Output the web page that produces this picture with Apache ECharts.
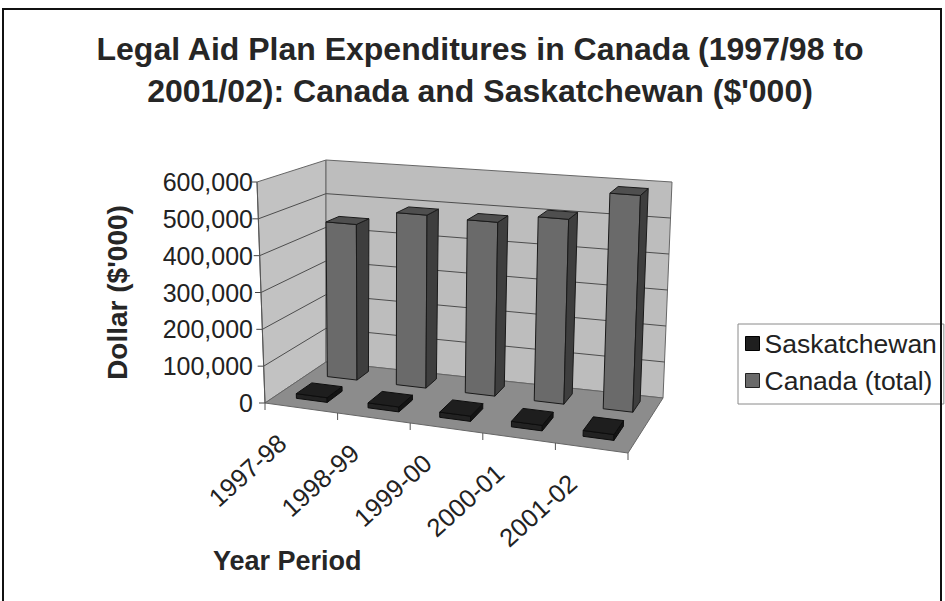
<!DOCTYPE html>
<html>
<head>
<meta charset="utf-8">
<script src="https://cdn.jsdelivr.net/npm/echarts@6/dist/echarts.min.js"></script>
<style>
  html, body { margin: 0; padding: 0; background: #ffffff; }
  #chart { width: 945px; height: 601px; }
</style>
</head>
<body>
<div id="chart"></div>
<script>
// Fiscal year periods along the floor
const categories = ['1997-98', '1998-99', '1999-00', '2000-01', '2001-02'];
// Legal aid plan expenditures, in $'000
const canadaTotal = [445000, 488000, 484000, 508000, 588000];
const saskatchewan = [12800, 13300, 13900, 14500, 15200];
// Value gridlines on the walls
const valueTicks = [0, 100000, 200000, 300000, 400000, 500000, 600000];

const FONT = '"Liberation Sans", Arial, sans-serif';

// Screen corners of the 3D plot box: u runs across the categories,
// v runs from the front row to the back wall, w is the value height.
const BOX = {
  flb: [265, 403], frb: [628, 453], blb: [326, 362], brb: [663, 398],
  flt: [257, 182], frt: [635, 217], blt: [326, 160], brt: [672, 182]
};
function lerp(a, b, t) { return [a[0] + (b[0] - a[0]) * t, a[1] + (b[1] - a[1]) * t]; }
function project(u, v, w) {
  const bottom = lerp(lerp(BOX.flb, BOX.frb, u), lerp(BOX.blb, BOX.brb, u), v);
  const top = lerp(lerp(BOX.flt, BOX.frt, u), lerp(BOX.blt, BOX.brt, u), v);
  return lerp(bottom, top, w);
}
// Normalised positions taken from the chart's own axes
function uOf(api, cs, i) { return (api.coord([i, 0])[0] - cs.x) / cs.width; }
function wOf(api, cs, val) { return (cs.y + cs.height - api.coord([0, val])[1]) / cs.height; }

const WALL_EDGE = '#666666';
const GRID = '#4d4d4d';

function renderBox(params, api) {
  if (params.dataIndex !== 0) return null;
  const cs = params.coordSys;
  const P = project;
  const kids = [];
  const poly = (pts, fill) => ({
    type: 'polygon', shape: { points: pts },
    style: { fill: fill, stroke: WALL_EDGE, lineWidth: 1 }
  });
  const line = (a, b, color) => ({
    type: 'line', shape: { x1: a[0], y1: a[1], x2: b[0], y2: b[1] },
    style: { stroke: color, lineWidth: 1 }
  });
  // walls and floor
  kids.push(poly([P(0, 0, 0), P(0, 1, 0), P(0, 1, 1), P(0, 0, 1)], '#c2c2c2'));
  kids.push(poly([P(0, 1, 0), P(1, 1, 0), P(1, 1, 1), P(0, 1, 1)], '#bdbdbd'));
  kids.push(poly([P(0, 0, 0), P(1, 0, 0), P(1, 1, 0), P(0, 1, 0)], '#8c8c8c'));
  // value gridlines across the left and back walls, ticks on the front edge
  valueTicks.forEach(t => {
    const w = wOf(api, cs, t);
    if (t > 0 && t < valueTicks[valueTicks.length - 1]) {
      kids.push({
        type: 'polyline',
        shape: { points: [P(0, 0, w), P(0, 1, w), P(1, 1, w)] },
        style: { stroke: GRID, lineWidth: 1, fill: null }
      });
    }
    const a = P(0, 0, w);
    kids.push(line(a, [a[0] - 6, a[1]], '#444444'));
  });
  // front edge of the left wall
  kids.push(line(P(0, 0, 0), P(0, 0, 1), '#555555'));
  // category boundary ticks under the floor's front edge
  for (let k = 0; k <= categories.length; k++) {
    const a = P(k / categories.length, 0, 0);
    kids.push(line(a, [a[0], a[1] + 7], '#555555'));
  }
  // slanted category labels
  categories.forEach((name, k) => {
    const a = P(uOf(api, cs, k), 0, 0);
    kids.push({
      type: 'text', x: a[0] - 19, y: a[1] + 31, rotation: 42 * Math.PI / 180,
      style: {
        text: name, fill: '#222222', fontSize: 25.5, fontFamily: FONT,
        align: 'right', verticalAlign: 'middle'
      }
    });
  });
  return { type: 'group', children: kids };
}

function barRenderer(v0, v1, colors) {
  return function (params, api) {
    const cs = params.coordSys;
    const P = project;
    const i = api.value(0);
    const uc = uOf(api, cs, i);
    const bw = api.size([1, 0])[0] / cs.width * 0.43;
    const w = wOf(api, cs, api.value(1));
    const u0 = uc - bw / 2, u1 = uc + bw / 2;
    const face = (pts, fill) => ({
      type: 'polygon', shape: { points: pts },
      style: { fill: fill, stroke: colors.edge, lineWidth: 1, lineJoin: 'round' }
    });
    return {
      type: 'group',
      children: [
        face([P(u0, v0, 0), P(u1, v0, 0), P(u1, v0, w), P(u0, v0, w)], colors.front),
        face([P(u1, v0, 0), P(u1, v1, 0), P(u1, v1, w), P(u1, v0, w)], colors.side),
        face([P(u0, v0, w), P(u1, v0, w), P(u1, v1, w), P(u0, v1, w)], colors.top)
      ]
    };
  };
}

const chart = echarts.init(document.getElementById('chart'), null, { renderer: 'svg' });

chart.setOption({
  backgroundColor: '#ffffff',
  animation: false,
  title: {
    text: 'Legal Aid Plan Expenditures in Canada (1997/98 to\n2001/02): Canada and Saskatchewan ($\'000)',
    left: 475, top: 23, textAlign: 'center',
    textStyle: { fontFamily: FONT, fontSize: 32, fontWeight: 'bold', color: '#262626', lineHeight: 42 }
  },
  legend: {
    left: 738, top: 324, orient: 'vertical',
    padding: [6, 7, 10, 7], itemGap: 10, itemWidth: 14, itemHeight: 14,
    borderColor: '#8a8a8a', borderWidth: 1, backgroundColor: '#ffffff',
    textStyle: { fontFamily: FONT, fontSize: 26.5, color: '#222222' },
    data: [
      { name: 'Saskatchewan', icon: 'rect', itemStyle: { color: '#1f1f1f', borderColor: '#000000', borderWidth: 1 } },
      { name: 'Canada (total)', icon: 'rect', itemStyle: { color: '#6a6a6a', borderColor: '#222222', borderWidth: 1 } }
    ]
  },
  grid: { left: 261, top: 182, width: 367, height: 221 },
  xAxis: { type: 'category', data: categories, show: false },
  yAxis: {
    type: 'value', min: 0, max: 600000, interval: 100000,
    name: 'Dollar ($\'000)', nameLocation: 'middle', nameRotate: 90, nameGap: 130,
    nameTextStyle: { fontFamily: FONT, fontSize: 28, fontWeight: 'bold', color: '#262626' },
    axisLine: { show: false }, axisTick: { show: false }, splitLine: { show: false },
    axisLabel: {
      margin: 8, fontFamily: FONT, fontSize: 25, color: '#222222',
      formatter: v => v.toLocaleString('en-US')
    }
  },
  graphic: [
    {
      type: 'text', left: 213, top: 547,
      style: { text: 'Year Period', fontFamily: FONT, fontSize: 27, fontWeight: 'bold', fill: '#262626' }
    },
    {
      type: 'rect', shape: { x: 3, y: 9, width: 938, height: 600 },
      style: { fill: null, stroke: '#111111', lineWidth: 2 }, z: 100
    }
  ],
  series: [
    {
      type: 'custom', name: 'plot box', silent: true, z: 1,
      data: [[0, 0]], encode: { x: 0, y: 1 },
      renderItem: renderBox
    },
    {
      type: 'custom', name: 'Canada (total)', z: 2,
      itemStyle: { color: '#6a6a6a' },
      data: canadaTotal.map((v, i) => [i, v]), encode: { x: 0, y: 1 },
      renderItem: barRenderer(0.7, 0.9, { front: '#6a6a6a', side: '#3e3e3e', top: '#4f4f4f', edge: '#1a1a1a' })
    },
    {
      type: 'custom', name: 'Saskatchewan', z: 3,
      itemStyle: { color: '#1f1f1f' },
      data: saskatchewan.map((v, i) => [i, v]), encode: { x: 0, y: 1 },
      renderItem: barRenderer(0.18, 0.44, { front: '#222222', side: '#141414', top: '#1e1e1e', edge: '#0d0d0d' })
    }
  ]
});
</script>
</body>
</html>
